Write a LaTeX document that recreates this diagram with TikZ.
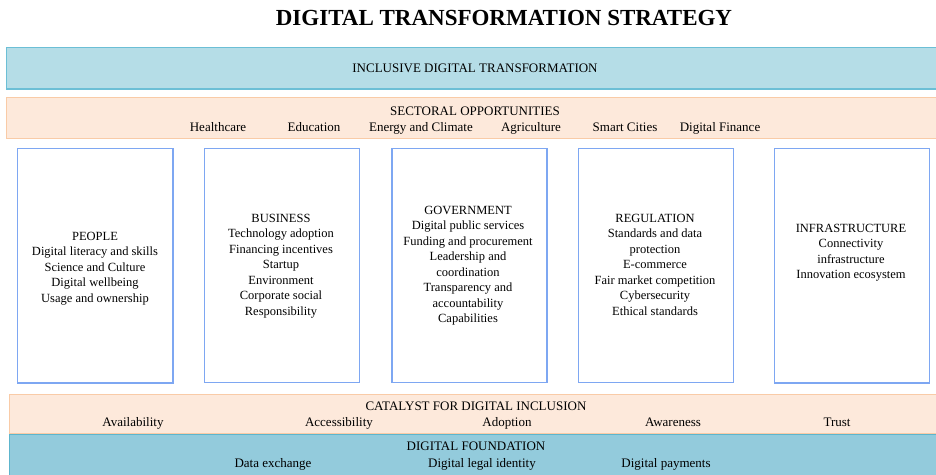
\documentclass[tikz,border=0pt]{standalone}
\usepackage{fontspec}
\setmainfont{Liberation Serif}
\definecolor{bandblue}{HTML}{B5DDE7}
\definecolor{bandblueline}{HTML}{6CBFD6}
\definecolor{deepblue}{HTML}{93CBDC}
\definecolor{deepblueline}{HTML}{5DB5CD}
\definecolor{peach}{HTML}{FDE9DB}
\definecolor{peachline}{HTML}{F9CBA7}
\definecolor{pillarline}{HTML}{7EA7F2}
\tikzset{
  band/.style={line width=1.5pt},
  pillar/.style={draw=pillarline, line width=1.5pt, fill=white},
  txt/.style={inner sep=0pt, font=\fontsize{12.5}{15.5}\selectfont, align=center},
  lbl/.style={inner sep=0pt, font=\fontsize{13}{15}\selectfont, anchor=base},
}
\begin{document}
\begin{tikzpicture}[x=1pt,y=-1pt]
\useasboundingbox (0,0) rectangle (936,474);
\fill[white] (0,0) rectangle (936,474);

% title
\node[inner sep=0pt, font=\fontsize{23}{27}\selectfont\bfseries, anchor=base] (title) at (504,25) {DIGITAL TRANSFORMATION STRATEGY};

% top band
\draw[band, draw=bandblueline, fill=bandblue] (6.5,47.5) rectangle (940,89);
\node[lbl] (incl) at (475,72.5) {INCLUSIVE DIGITAL TRANSFORMATION};

% sectoral opportunities
\draw[band, draw=peachline, fill=peach] (6.5,97.5) rectangle (940,138.5);
\node[lbl] (sect) at (475,115.5) {SECTORAL OPPORTUNITIES};
\node[lbl] (s1) at (218,131.5) {Healthcare};
\node[lbl] (s2) at (314,131.5) {Education};
\node[lbl] (s3) at (421,131.5) {Energy and Climate};
\node[lbl] (s4) at (531,131.5) {Agriculture};
\node[lbl] (s5) at (625,131.5) {Smart Cities};
\node[lbl] (s6) at (720,131.5) {Digital Finance};

% pillars
\draw[pillar] (17.5,148.5) rectangle (173,383);
\draw[pillar] (204.5,148.5) rectangle (359.5,382.5);
\draw[pillar] (392,148.5) rectangle (547,382.5);
\draw[pillar] (578.5,148.5) rectangle (733.5,382.5);
\draw[pillar] (774.5,148.5) rectangle (929.5,383);

\node[txt, anchor=north] (people) at (95,232) {PEOPLE\\Digital literacy and skills\\Science and Culture\\Digital wellbeing\\Usage and ownership};
\node[txt, anchor=north] (business) at (281,214) {BUSINESS\\Technology adoption\\Financing incentives\\Startup\\Environment\\Corporate social\\Responsibility};
\node[txt, anchor=north] (gov) at (468,206) {GOVERNMENT\\Digital public services\\Funding and procurement\\Leadership and\\coordination\\Transparency and\\accountability\\Capabilities};
\node[txt, anchor=north] (reg) at (655,214) {REGULATION\\Standards and data\\protection\\E-commerce\\Fair market competition\\Cybersecurity\\Ethical standards};
\node[txt, anchor=north] (infra) at (851,224) {INFRASTRUCTURE\\Connectivity\\infrastructure\\Innovation ecosystem};

% catalyst band
\draw[band, draw=peachline, fill=peach] (9.5,394.5) rectangle (940,434);
\node[lbl] (cat) at (476,410.5) {CATALYST FOR DIGITAL INCLUSION};
\node[lbl] (c1) at (133,426.5) {Availability};
\node[lbl] (c2) at (339,426.5) {Accessibility};
\node[lbl] (c3) at (507,426.5) {Adoption};
\node[lbl] (c4) at (673,426.5) {Awareness};
\node[lbl] (c5) at (837,426.5) {Trust};

% digital foundation
\draw[band, draw=deepblueline, fill=deepblue] (9.5,434.5) rectangle (940,480);
\node[lbl] (found) at (476,450.5) {DIGITAL FOUNDATION};
\node[lbl] (f1) at (273,467.5) {Data exchange};
\node[lbl] (f2) at (482,467.5) {Digital legal identity};
\node[lbl] (f3) at (666,467.5) {Digital payments};
\end{tikzpicture}
\end{document}
